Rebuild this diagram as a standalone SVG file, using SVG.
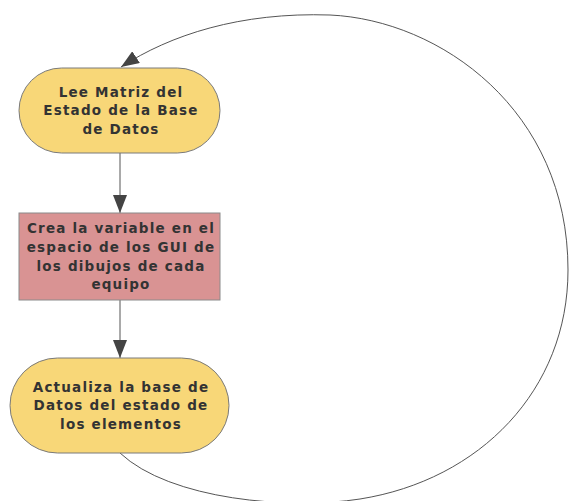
<svg xmlns="http://www.w3.org/2000/svg" width="570" height="501" viewBox="0 0 570 501">
<style>
.t{font-family:"DejaVu Sans","Liberation Sans",sans-serif;font-weight:bold;font-size:13.5px;letter-spacing:1.2px;fill:#333;text-anchor:middle}
.y{fill:#f8d778;stroke:#7a7a7a;stroke-width:1}
.p{fill:#d99393;stroke:#8a8a8a;stroke-width:1}
.c{fill:none;stroke:#555;stroke-width:1}
</style>
<defs>
<marker id="ah2" markerWidth="18" markerHeight="14" viewBox="0 0 18 14" refX="18" refY="7" orient="auto" markerUnits="userSpaceOnUse">
<path d="M0,0 L18,7 L0,14 Z" fill="#444"/>
</marker>
</defs>
<g id="connectors">
<path class="c" d="M120,153 L120,213" marker-end="url(#ah2)"/>
<path class="c" d="M120,300 L120,358" marker-end="url(#ah2)"/>
<path class="c" stroke="#777" d="M120,453 C170,500 290,510 360,499 C480,480 568,390 568,270 C568,110 440,20 330,15 C240,12 170,35 121,67" marker-end="url(#ah2)"/>
</g>
<g id="n1">
<rect class="y" x="19" y="68" width="201" height="85" rx="42.5" ry="42.5"/>
<text class="t" x="121" y="97">Lee Matriz del</text>
<text class="t" x="121" y="115">Estado de la Base</text>
<text class="t" x="121" y="134">de Datos</text>
</g>
<g id="n2">
<rect class="p" x="19" y="213" width="201" height="87"/>
<text class="t" x="121" y="233">Crea la variable en el</text>
<text class="t" x="121" y="252">espacio de los GUI de</text>
<text class="t" x="121" y="271">los dibujos de cada</text>
<text class="t" x="121" y="289">equipo</text>
</g>
<g id="n3">
<rect class="y" x="10" y="358" width="219" height="95" rx="47.5" ry="47.5"/>
<text class="t" x="121" y="392">Actualiza la base de</text>
<text class="t" x="121" y="410">Datos del estado de</text>
<text class="t" x="121" y="429">los elementos</text>
</g>
</svg>
